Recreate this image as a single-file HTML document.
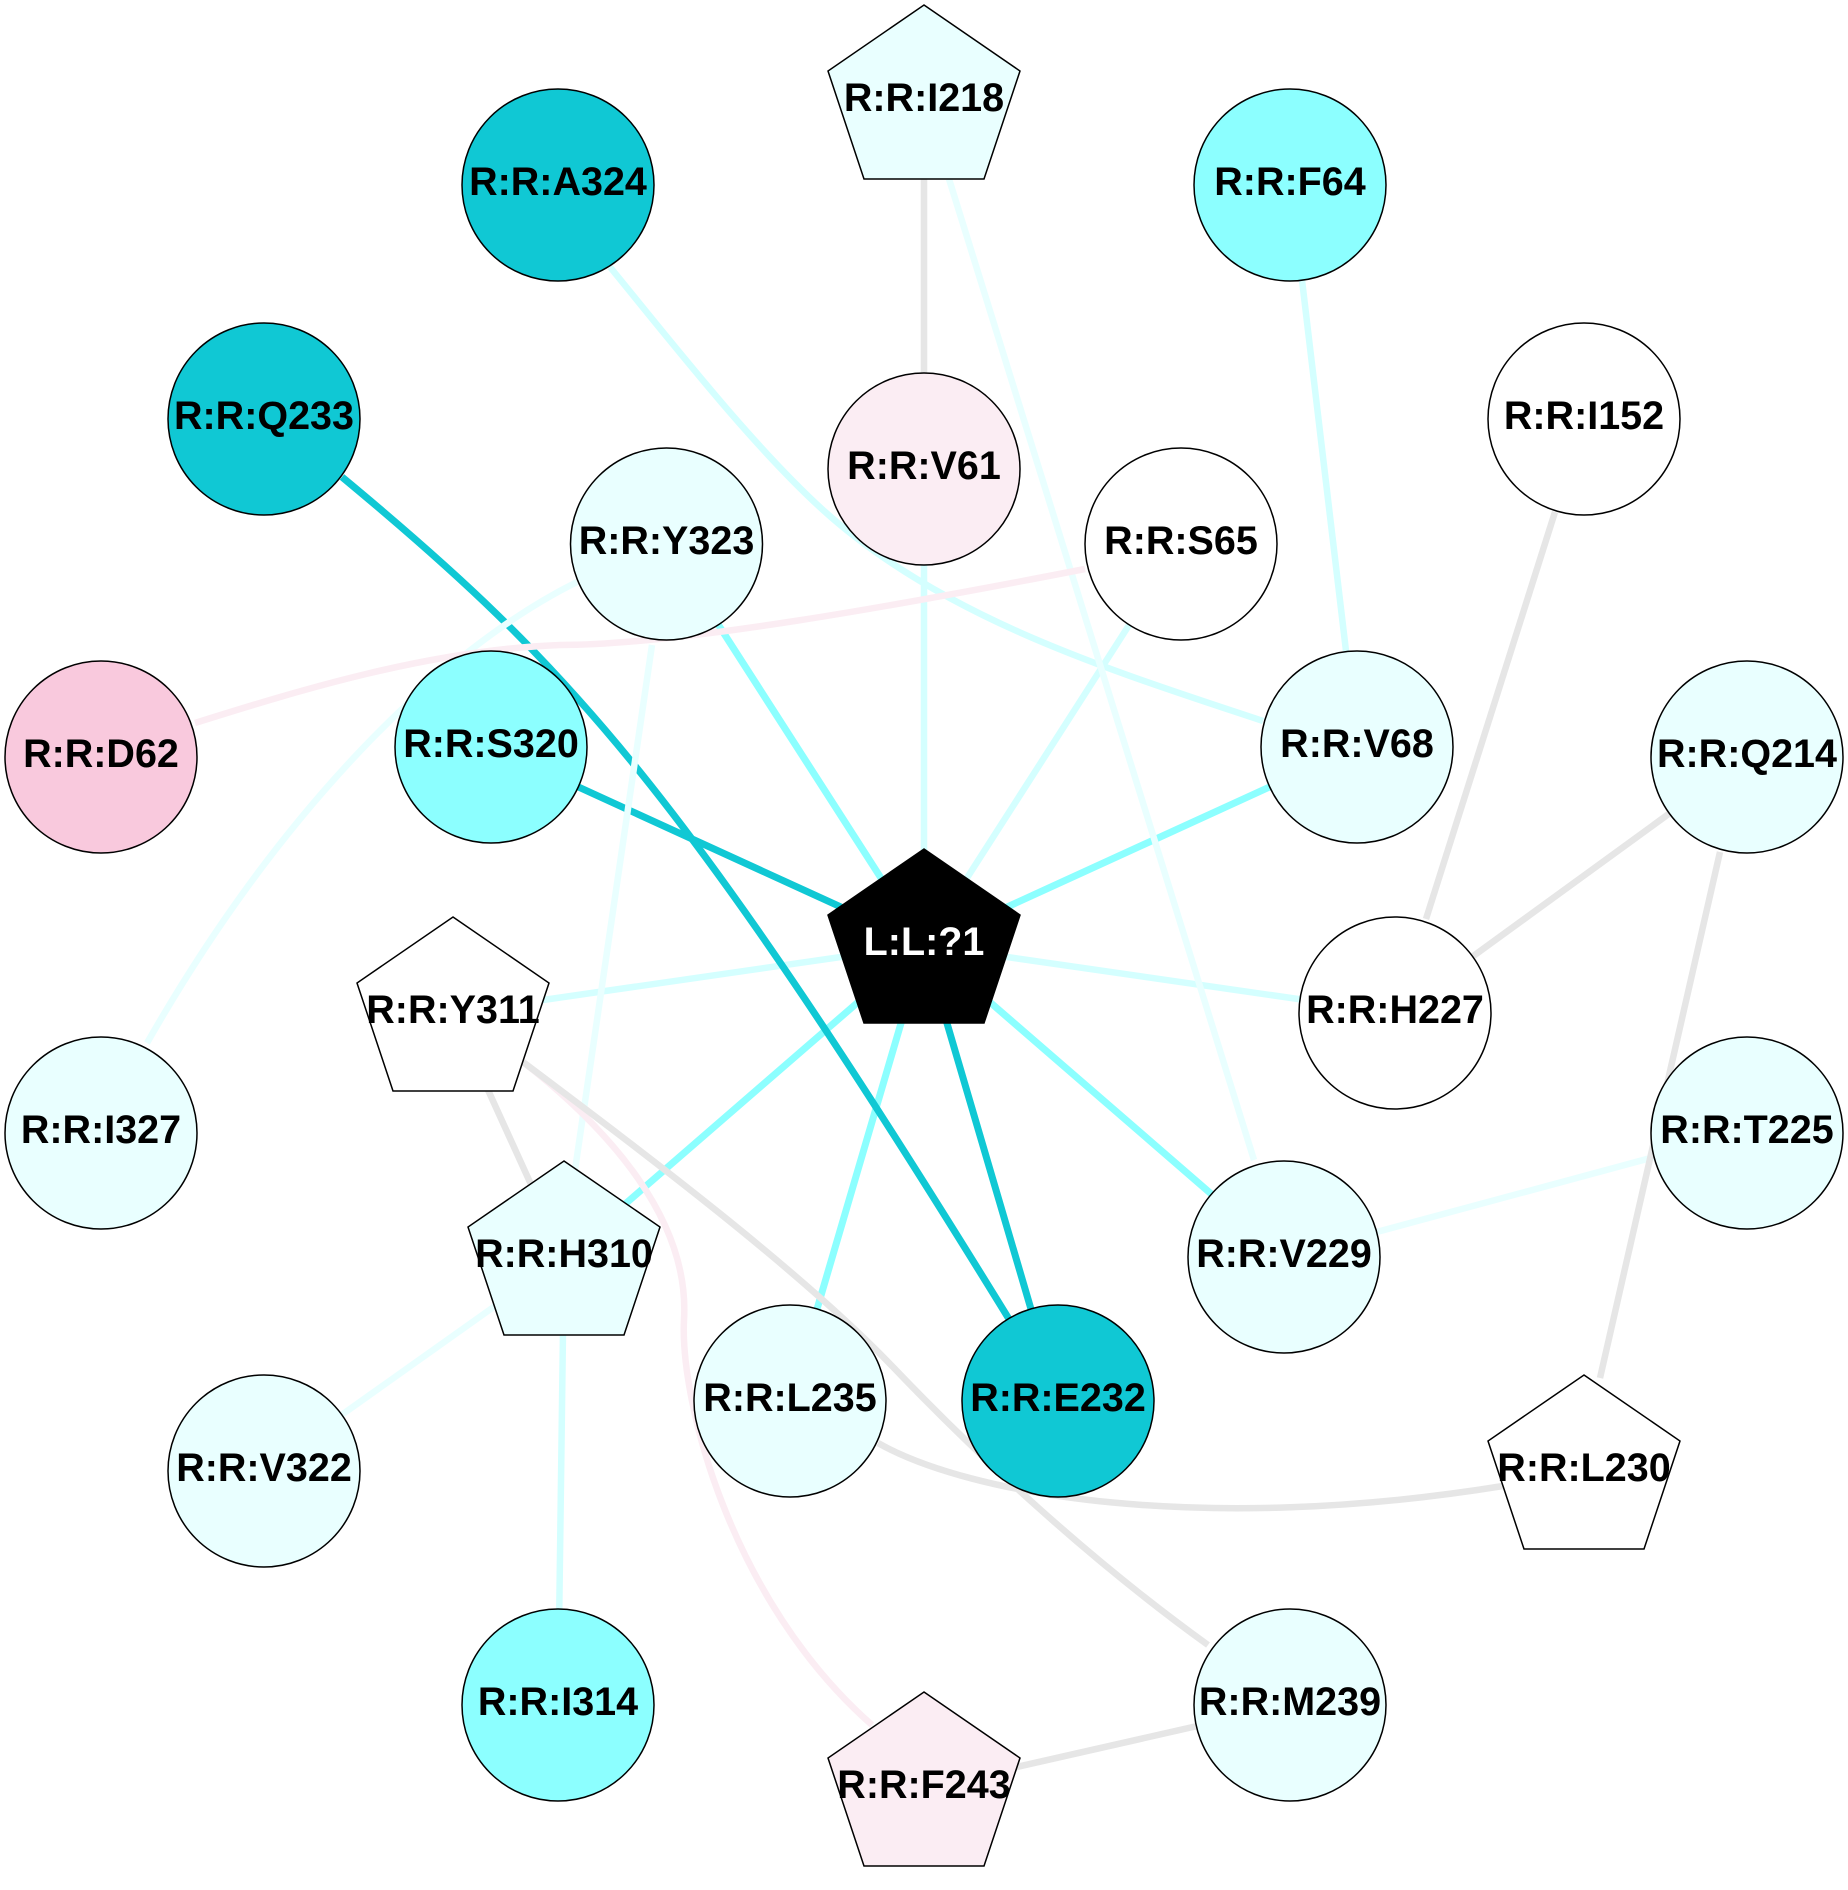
<!DOCTYPE html>
<html>
<head>
<meta charset="utf-8">
<style>
html,body{margin:0;padding:0;background:#fff;}
svg{display:block;}
text{font-family:"Liberation Sans",Arial,sans-serif;font-weight:bold;font-size:39.5px;text-anchor:middle;fill:#000;}
.n{stroke:#000;stroke-width:1.5;}
.e{fill:none;stroke-width:6.5;}
.d{stroke:#10c8d4;stroke-width:7;}
.c{stroke:#8cffff;stroke-width:7;}
.l{stroke:#d4ffff;}
.p{stroke:#e9ffff;}
.k{stroke:#fbedf3;}
.g{stroke:#e6e6e6;}
</style>
</head>
<body>
<svg width="1848" height="1890" viewBox="0 0 1848 1890" xmlns="http://www.w3.org/2000/svg">
<rect width="1848" height="1890" fill="#fff"/>
<!-- cyan edges -->
<g class="e">
<path class="l" d="M924 469L924 945"/>
<path class="l" d="M1181 544L924 945"/>
<path class="l" d="M453 1013L924 945"/>
<path class="l" d="M1395 1013L924 945"/>
<path class="l" d="M1302 280L1346 651"/>
<path class="l" d="M564 1257L558 1705"/>
<path class="c" d="M666.5 544L924 945"/>
<path class="c" d="M1357 747L924 945"/>
<path class="c" d="M564 1257L924 945"/>
<path class="c" d="M790 1401L924 945"/>
<path class="c" d="M1284 1257L924 945"/>
<!-- dark edges -->
<path class="d" d="M491 747L924 945"/>
<path class="d" d="M1058 1401L924 945"/>
<path class="d" d="M342 477C569.3 665.7 683.4 788.3 1020 1337"/>
<!-- pale edges -->
<path class="l" d="M610 267C681 354 753 446 823 510C943 619 1113 671 1263 721"/>
<path class="p" d="M949 179Q1098 660 1254 1160"/>
<path class="p" d="M577 582C440 650 280 810 147 1043"/>
<path class="p" d="M652 645L575 1170"/>
<path class="p" d="M1747 1132L1284 1257"/>
<path class="p" d="M564 1257L264 1470"/>
<!-- pink edges -->
<path class="k" d="M195 723C300 690 430 650 560 645C680 645 900 605 1085 569"/>
<path class="k" d="M523 1062C610 1130 690 1220 684 1320C680 1400 730 1600 872 1725"/>
<!-- gray edges -->
<path class="g" d="M924 179L924 373"/>
<path class="g" d="M1555 512L1426 919"/>
<path class="g" d="M1747 757L1395 1013"/>
<path class="g" d="M1720 852L1600 1378"/>
<path class="g" d="M453 1013L564 1257"/>
<path class="g" d="M523 1062C640 1150 800 1270 893 1367C980 1458 1090 1560 1208 1645"/>
<path class="g" d="M878 1443C970 1495 1200 1535 1503 1486"/>
<path class="g" d="M924 1788L1290 1705"/>
</g>
<!-- nodes -->
<g class="n">
<circle cx="558" cy="185" r="96" fill="#10c8d4"/>
<circle cx="1290" cy="185" r="96" fill="#8cffff"/>
<circle cx="264" cy="419" r="96" fill="#10c8d4"/>
<circle cx="924" cy="469" r="96" fill="#fbedf3"/>
<circle cx="1584" cy="419" r="96" fill="#ffffff"/>
<circle cx="666.5" cy="544" r="96" fill="#e9ffff"/>
<circle cx="1181" cy="544" r="96" fill="#ffffff"/>
<circle cx="491" cy="747" r="96" fill="#8cffff"/>
<circle cx="1357" cy="747" r="96" fill="#e9ffff"/>
<circle cx="101" cy="757" r="96" fill="#f9c9dd"/>
<circle cx="1747" cy="757" r="96" fill="#e9ffff"/>
<circle cx="101" cy="1133" r="96" fill="#e9ffff"/>
<circle cx="1747" cy="1133" r="96" fill="#e9ffff"/>
<circle cx="1395" cy="1013" r="96" fill="#ffffff"/>
<circle cx="1284" cy="1257" r="96" fill="#e9ffff"/>
<circle cx="790" cy="1401" r="96" fill="#e9ffff"/>
<circle cx="1058" cy="1401" r="96" fill="#10c8d4"/>
<circle cx="264" cy="1471" r="96" fill="#e9ffff"/>
<circle cx="558" cy="1705" r="96" fill="#8cffff"/>
<circle cx="1290" cy="1705" r="96" fill="#e9ffff"/>
<polygon points="924,5 1020,71 984,179 864,179 828,71" fill="#e9ffff"/>
<polygon points="453,917 549,983 513,1091 393,1091 357,983" fill="#ffffff"/>
<polygon points="564,1161 660,1227 624,1335 504,1335 468,1227" fill="#e9ffff"/>
<polygon points="1584,1375 1680,1441 1644,1549 1524,1549 1488,1441" fill="#ffffff"/>
<polygon points="924,1692 1020,1758 984,1866 864,1866 828,1758" fill="#fbedf3"/>
<polygon points="924,849 1020,915 984,1023 864,1023 828,915" fill="#000000"/>
</g>
<!-- labels -->
<text x="558" y="195">R:R:A324</text>
<text x="1290" y="195">R:R:F64</text>
<text x="264" y="429">R:R:Q233</text>
<text x="924" y="479">R:R:V61</text>
<text x="1584" y="429">R:R:I152</text>
<text x="666.5" y="554">R:R:Y323</text>
<text x="1181" y="554">R:R:S65</text>
<text x="491" y="757">R:R:S320</text>
<text x="1357" y="757">R:R:V68</text>
<text x="101" y="767">R:R:D62</text>
<text x="1747" y="767">R:R:Q214</text>
<text x="101" y="1143">R:R:I327</text>
<text x="1747" y="1143">R:R:T225</text>
<text x="1395" y="1023">R:R:H227</text>
<text x="1284" y="1267">R:R:V229</text>
<text x="790" y="1411">R:R:L235</text>
<text x="1058" y="1411">R:R:E232</text>
<text x="264" y="1481">R:R:V322</text>
<text x="558" y="1715">R:R:I314</text>
<text x="1290" y="1715">R:R:M239</text>
<text x="924" y="111">R:R:I218</text>
<text x="453" y="1023">R:R:Y311</text>
<text x="564" y="1267">R:R:H310</text>
<text x="1584" y="1481">R:R:L230</text>
<text x="924" y="1798">R:R:F243</text>
<text x="924" y="955" style="fill:#fff">L:L:?1</text>
</svg>
</body>
</html>
